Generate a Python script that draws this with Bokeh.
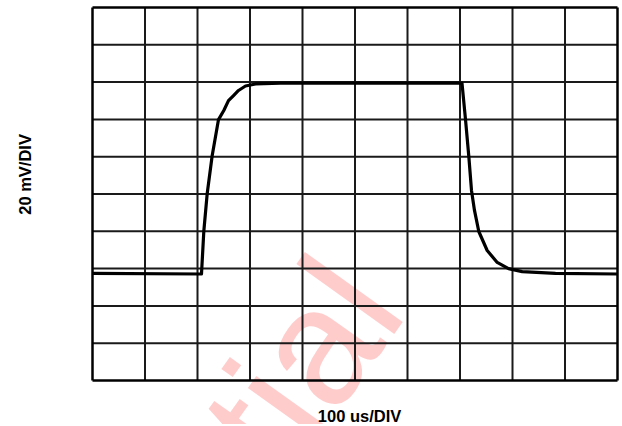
from bokeh.plotting import figure
from bokeh.models import Range1d, Label
from bokeh.embed import file_html
from bokeh.resources import INLINE

# time in microseconds (100 us/div), signal in millivolts (20 mV/div)
time_us = [0, 207.6, 212.0, 218.5, 228.0, 240.0, 250.1, 259.0, 268.6, 278.1, 291.4, 310.5, 358.1,
           703.8, 710.5, 716.8, 721.9, 727.6, 735.8, 751.8, 770.9, 792.4, 818.5, 881.9, 1000]
signal_mv = [-42.6, -42.9, -20.1, 0.3, 20.6, 39.9, 44.8, 50.1, 52.8, 55.5, 57.9, 59.0, 59.4,
             59.4, 39.9, 20.1, 1.9, -8.8, -20.1, -30.3, -36.7, -40.0, -41.6, -42.6, -42.9]

x_divisions = [0, 100, 200, 300, 400, 500, 600, 700, 800, 900, 1000]
y_divisions = [-100, -80, -60, -40, -20, 0, 20, 40, 60, 80, 100]
x_label = "100 us/DIV"
y_label = "20 mV/DIV"
watermark_text = "Confidential"

# the whole canvas is the frame; the graticule occupies its own sub-area
p = figure(width=620, height=424, output_backend="svg", toolbar_location=None,
           x_range=Range1d(-175.24, 1005.71), y_range=Range1d(-123.59, 103.75),
           min_border=0, x_axis_location=None, y_axis_location=None)
p.outline_line_color = None
p.xgrid.visible = False
p.ygrid.visible = False
p.background_fill_color = "white"
p.border_fill_color = "white"

x_lo, x_hi = x_divisions[0], x_divisions[-1]
y_lo, y_hi = y_divisions[0], y_divisions[-1]

# watermark (underneath everything)
wm = Label(x=514.3, y=-45.8, text=watermark_text, angle=0.95,
           text_align="right", text_baseline="alphabetic",
           text_font="Liberation Sans", text_font_size="166px",
           text_color="#ff0000", text_alpha=0.2, level="image")
p.add_layout(wm)

# inner graticule lines
inner_x = x_divisions[1:-1]
inner_y = y_divisions[1:-1]
p.segment(x0=inner_x, y0=[y_lo] * len(inner_x), x1=inner_x, y1=[y_hi] * len(inner_x),
          line_color="#1a1a1a", line_width=2)
p.segment(x0=[x_lo] * len(inner_y), y0=inner_y, x1=[x_hi] * len(inner_y), y1=inner_y,
          line_color="#1a1a1a", line_width=2)
# outer border
p.segment(x0=[x_lo, x_hi, x_lo, x_lo], y0=[y_lo, y_lo, y_lo, y_hi],
          x1=[x_lo, x_hi, x_hi, x_hi], y1=[y_hi, y_hi, y_lo, y_hi],
          line_color="black", line_width=2.5)

# trace
p.line(time_us, signal_mv, line_color="black", line_width=3.2, line_join="round")

# axis captions
p.add_layout(Label(x=508.6, y=-119.0, text=x_label, text_align="center",
                   text_baseline="middle", text_font="Liberation Sans",
                   text_font_style="bold", text_font_size="16.5px", text_color="black"))
p.add_layout(Label(x=-129.5, y=10.5, text=y_label, angle=1.5708, text_align="center",
                   text_baseline="middle", text_font="Liberation Sans",
                   text_font_style="bold", text_font_size="16.5px", text_color="black"))

open("out.html", "w").write(file_html(p, INLINE))
